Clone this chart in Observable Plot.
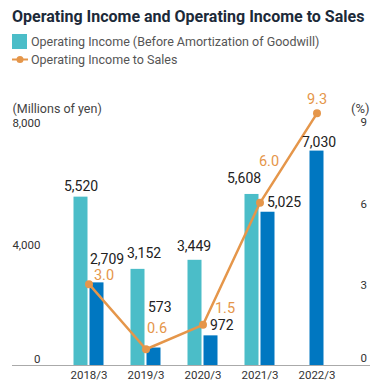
<!DOCTYPE html>
<html>
<head>
<meta charset="utf-8">
<script src="https://cdn.jsdelivr.net/npm/d3@7"></script>
<script src="https://cdn.jsdelivr.net/npm/@observablehq/plot@0.6"></script>
<style>
  html, body { margin: 0; padding: 0; background: #fff; }
  body { width: 377px; height: 382px; overflow: hidden; font-family: Roboto, sans-serif; }
  #head { position: relative; height: 72px; }
  #title { position: absolute; left: 12px; top: 9px; font-size: 16px; line-height: 16px; font-weight: bold; color: #1c2a39; white-space: nowrap; }
  .leg { position: absolute; left: 12px; height: 16px; display: flex; align-items: center; font-size: 12.5px; color: #555; white-space: nowrap; }
  .sw { width: 15px; height: 15px; margin-right: 4px; }
  .ln { width: 16px; height: 9px; margin-right: 3px; }
  #chart svg { display: block; }
</style>
</head>
<body>
<div id="head">
  <div id="title">Operating Income and Operating Income to Sales</div>
  <div class="leg" id="leg1" style="top:33px"><div class="sw" id="sw1"></div><span id="lt1"></span></div>
  <div class="leg" id="leg2" style="top:51px"><svg class="ln" id="sw2" viewBox="0 0 16 9"></svg><span id="lt2"></span></div>
</div>
<div id="chart"></div>
<script>
// ---- data ----
const categories = ["2018/3", "2019/3", "2020/3", "2021/3", "2022/3"];
const incomeBeforeAmortization = [5520, 3152, 3449, 5608, null];
const operatingIncome = [2709, 573, 972, 5025, 7030];
const incomeToSales = [3.0, 0.6, 1.5, 6.0, 9.3];
const leftTicks = [0, 4000, 8000];
const rightTicks = [0, 3, 6, 9];
const seriesNames = ["Operating Income (Before Amortization of Goodwill)", "Operating Income to Sales"];
const unitLeft = "(Millions of yen)";
const unitRight = "(%)";

// ---- style ----
const teal = "#4bbdc8";
const blue = "#0077c1";
const orange = "#e5964a";
const textColor = "#333";

// right axis (%) shares the frame with left axis: 9% <-> 8,000
const pctToY = p => p * 8000 / 9;

const rows = categories.map((c, i) => ({
  cat: c, before: incomeBeforeAmortization[i], op: operatingIncome[i], pct: incomeToSales[i]
}));
const fmtN = d3.format(",");
const fmtP = d3.format(".1f");

// label nudges (pixel offsets from the scaled anchor), per category
const tealNudge = {"2018/3": [-8, -11], "2019/3": [-2, -16], "2020/3": [-9, -14], "2021/3": [-16, -16]};
const blueNudge = {"2018/3": ["start", 1, -23], "2019/3": ["start", 2, -41], "2020/3": ["start", 7, -10], "2021/3": ["start", 7, -10], "2022/3": ["middle", 2, -9]};
const pctNudge = {"2018/3": [15, -9], "2019/3": [11, -21], "2020/3": [22, -16], "2021/3": [9, -41], "2022/3": [0, -14]};

// legend
document.getElementById("sw1").style.background = teal;
document.getElementById("lt1").textContent = seriesNames[0];
document.getElementById("lt2").textContent = seriesNames[1];
document.getElementById("sw2").innerHTML =
  `<line x1="0" x2="16" y1="4.5" y2="4.5" stroke="${orange}" stroke-width="2"/><circle cx="8" cy="4.5" r="3.5" fill="${orange}"/>`;

const marks = [];
const hasBefore = rows.filter(d => d.before != null);
const noBefore = rows.filter(d => d.before == null);

marks.push(Plot.barY(hasBefore, {x: "cat", y: "before", fill: teal, insetLeft: 13.5, insetRight: 29.5}));
marks.push(Plot.barY(hasBefore, {x: "cat", y: "op", fill: blue, insetLeft: 29.5, insetRight: 13.5}));
marks.push(Plot.barY(noBefore, {x: "cat", y: "op", fill: blue, insetLeft: 21.5, insetRight: 21.5}));
marks.push(Plot.ruleY([0], {stroke: "#aaa", strokeWidth: 1}));

marks.push(Plot.line(rows, {x: "cat", y: d => pctToY(d.pct), stroke: orange, strokeWidth: 2.5}));
marks.push(Plot.dot(rows, {x: "cat", y: d => pctToY(d.pct), r: 4, fill: orange, stroke: "none"}));

for (const d of hasBefore) {
  const [dx, dy] = tealNudge[d.cat];
  marks.push(Plot.text([d], {x: "cat", y: "before", text: r => fmtN(r.before), dx, dy, fontSize: 14, fill: "#222"}));
}
for (const d of rows) {
  const [anchor, dx, dy] = blueNudge[d.cat];
  marks.push(Plot.text([d], {x: "cat", y: "op", text: r => fmtN(r.op), textAnchor: anchor, dx, dy, fontSize: 14, fill: "#222"}));
  const [pdx, pdy] = pctNudge[d.cat];
  marks.push(Plot.text([d], {x: "cat", y: r => pctToY(r.pct), text: r => fmtP(r.pct), dx: pdx, dy: pdy, fontSize: 14.5, fill: orange}));
}

// axes
marks.push(Plot.axisY(leftTicks.filter(t => t !== 0), {anchor: "left", label: null, tickSize: 0, tickPadding: 0, dx: 28, dy: 1.5, tickFormat: d3.format(","), fontSize: 11.5, fill: textColor}));
marks.push(Plot.axisY([0], {anchor: "left", label: null, tickSize: 0, tickPadding: 0, dx: 28, dy: -6.5, tickFormat: d3.format(","), fontSize: 11.5, fill: textColor}));
marks.push(Plot.axisY(rightTicks.filter(t => t !== 0).map(pctToY), {anchor: "right", label: null, tickSize: 0, tickPadding: 0, dx: -10, dy: 1, tickFormat: v => d3.format("d")(Math.round(v * 9 / 8000)), fontSize: 11.5, fill: textColor}));
marks.push(Plot.axisY([0], {anchor: "right", label: null, tickSize: 0, tickPadding: 0, dx: -10, dy: -7, tickFormat: () => "0", fontSize: 11.5, fill: textColor}));
marks.push(Plot.axisX({anchor: "bottom", label: null, tickSize: 0, tickPadding: 5, fontSize: 11.5, fill: textColor}));

// unit labels
marks.push(Plot.text([unitLeft], {frameAnchor: "top-left", textAnchor: "start", dy: -17.5, fontSize: 12.5, fill: "#444"}));
marks.push(Plot.text([unitRight], {frameAnchor: "top-right", textAnchor: "end", dx: -1, dy: -17.5, fontSize: 13, fill: "#444"}));

const chart = Plot.plot({
  width: 377,
  height: 310,
  marginLeft: 12,
  marginRight: 7,
  marginTop: 49,
  marginBottom: 17,
  style: {fontFamily: "Roboto, sans-serif", background: "#fff", overflow: "visible"},
  x: {type: "band", domain: categories, padding: 0, insetLeft: 47.5, insetRight: 25.5, axis: null},
  y: {domain: [0, 8000], axis: null},
  marks
});
document.getElementById("chart").appendChild(chart);
</script>
</body>
</html>
